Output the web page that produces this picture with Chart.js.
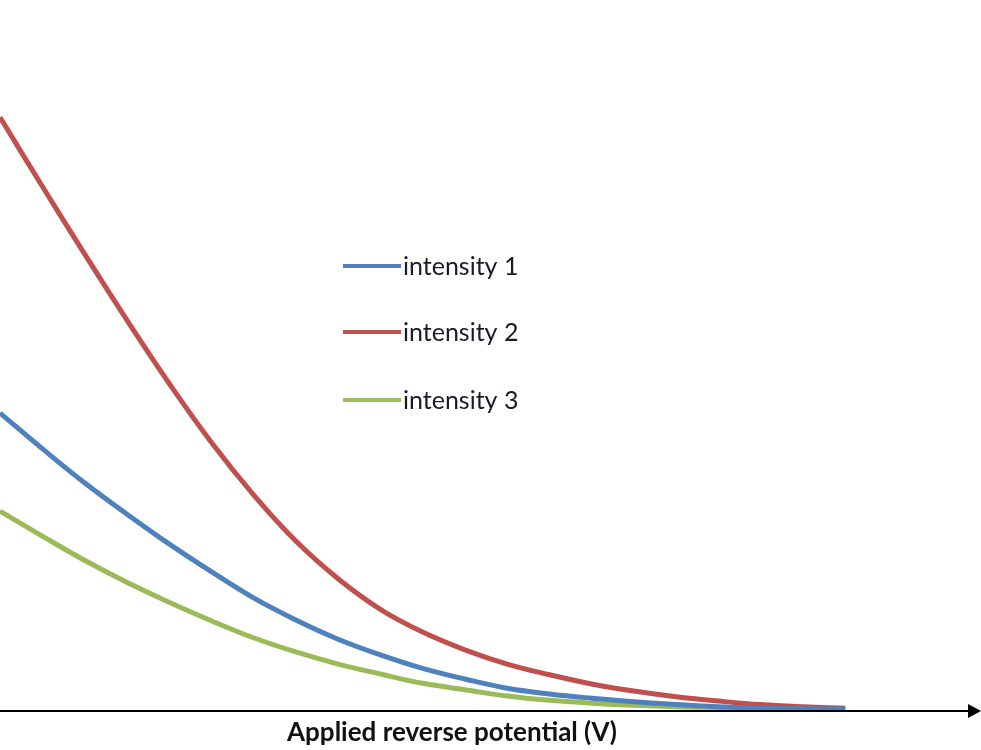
<!DOCTYPE html>
<html>
<head>
<meta charset="utf-8">
<script src="https://cdn.jsdelivr.net/npm/chart.js@4.4.1/dist/chart.umd.min.js"></script>
<style>
  html, body { margin: 0; padding: 0; background: #fff; }
  #wrap { width: 981px; height: 750px; }
</style>
</head>
<body>
<div id="wrap"><canvas id="chart" width="981" height="750"></canvas></div>
<script>
const potential = [0, 0.5, 1, 1.5, 2, 2.5, 3, 3.5, 4, 4.5, 5, 5.5, 6, 6.5, 7, 7.5, 8, 8.5, 9, 9.5, 10]
const intensity1 = [41.9, 36.9, 32.1, 27.7, 23.5, 19.6, 15.9, 12.8, 10.1, 7.9, 6.0, 4.5, 3.2, 2.4, 1.8, 1.3, 0.9, 0.6, 0.4, 0.3, 0.3]
const intensity2 = [83.5, 73.8, 64.3, 55.0, 46.1, 37.8, 30.4, 23.9, 18.6, 14.3, 11.1, 8.6, 6.6, 5.1, 3.8, 2.8, 2.0, 1.4, 0.9, 0.6, 0.4]
const intensity3 = [28.1, 24.6, 21.2, 18.1, 15.3, 12.7, 10.3, 8.3, 6.6, 5.2, 3.9, 3.0, 2.1, 1.5, 1.1, 0.8, 0.6, 0.5, 0.4, 0.3, 0.3]
const seriesNames = ['intensity 1', 'intensity 2', 'intensity 3']
const axisTitle = 'Applied reverse potential (V)'

const colors = ['#4f81bd', '#c0504d', '#9bbb59']

function points(values) {
  return potential.map((x, i) => ({ x: x, y: values[i] }))
}

// axis with arrow head, title and the legend in the middle of the plot
const decorations = {
  id: 'decorations',
  afterDatasetsDraw(chart) {
    const ctx = chart.ctx
    const area = chart.chartArea
    const y0 = chart.scales.y.getPixelForValue(0)
    ctx.save()
    ctx.strokeStyle = '#000'
    ctx.lineWidth = 2
    ctx.beginPath()
    ctx.moveTo(area.left, y0)
    ctx.lineTo(970, y0)
    ctx.stroke()
    ctx.fillStyle = '#000'
    ctx.beginPath()
    ctx.moveTo(968, y0 - 7)
    ctx.lineTo(981, y0)
    ctx.lineTo(968, y0 + 7)
    ctx.closePath()
    ctx.fill()

    ctx.font = 'bold 26px Lato'
    ctx.fillStyle = '#111'
    ctx.textAlign = 'center'
    ctx.textBaseline = 'middle'
    ctx.fillText(axisTitle, 452, 733)

    ctx.font = '25px Lato'
    ctx.textAlign = 'left'
    ctx.fillStyle = '#1a1a2a'
    const rows = [266, 332, 400]
    chart.data.datasets.forEach((ds, i) => {
      ctx.strokeStyle = ds.borderColor
      ctx.lineWidth = 4
      ctx.beginPath()
      ctx.moveTo(343, rows[i])
      ctx.lineTo(401, rows[i])
      ctx.stroke()
      ctx.fillText(ds.label, 403, rows[i] + 1)
    })
    ctx.restore()
  }
}

new Chart(document.getElementById('chart').getContext('2d'), {
  type: 'line',
  data: {
    datasets: [
      { label: seriesNames[0], data: points(intensity1), borderColor: colors[0] },
      { label: seriesNames[1], data: points(intensity2), borderColor: colors[1] },
      { label: seriesNames[2], data: points(intensity3), borderColor: colors[2] }
    ]
  },
  options: {
    responsive: false,
    animation: false,
    layout: { padding: { top: 0, left: 0, right: 9, bottom: 39 } },
    elements: {
      line: { borderWidth: 5, fill: false, tension: 0.4 },
      point: { radius: 0 }
    },
    scales: {
      x: { type: 'linear', min: 0, max: 11.5, display: false },
      y: { min: 0, max: 100, display: false }
    },
    plugins: {
      legend: { display: false },
      tooltip: { enabled: false }
    }
  },
  plugins: [decorations]
})
</script>
</body>
</html>
